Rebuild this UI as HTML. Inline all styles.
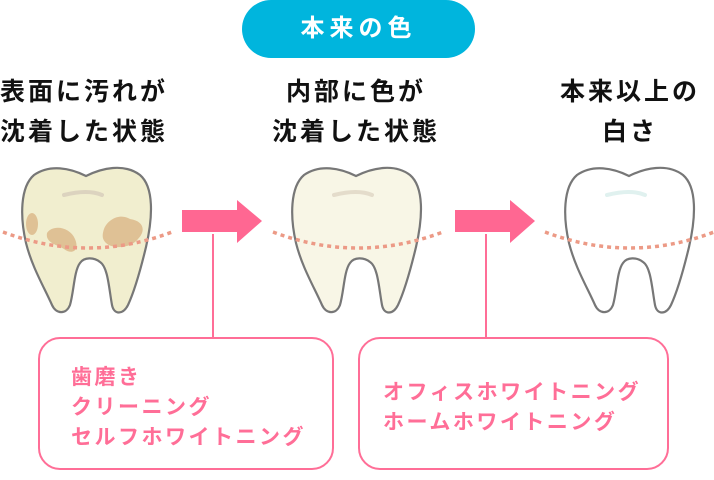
<!DOCTYPE html>
<html><head><meta charset="utf-8"><style>
html,body{margin:0;padding:0;background:#fff;}
body{width:714px;height:480px;position:relative;overflow:hidden;font-family:"Liberation Sans","Noto Sans CJK JP",sans-serif;}
.h{position:absolute;font-weight:bold;font-size:25px;line-height:40px;color:#111;text-align:center;letter-spacing:3px;}
.pill{position:absolute;left:242px;top:0;width:233px;height:58px;border-radius:29px;background:#00b5dd;color:#fff;font-weight:bold;font-size:24px;line-height:58px;text-align:center;letter-spacing:5px;}
.box{position:absolute;border:2px solid #ff6e97;border-radius:22px;box-sizing:border-box;color:#ff6e97;font-weight:bold;font-size:21px;line-height:30px;letter-spacing:2.5px;}
</style></head><body>
<div class="pill">本来の色</div>
<div class="h" style="left:-6px;top:72px;width:180px;">表面に汚れが<br>沈着した状態</div>
<div class="h" style="left:266px;top:72px;width:180px;">内部に色が<br>沈着した状態</div>
<div class="h" style="left:540px;top:72px;width:180px;">本来以上の<br>白さ</div>
<svg width="714" height="480" style="position:absolute;left:0;top:0">
<defs>
<path id="t" d="M66,9 C82,1 104,-4 120,8 C134,20 133,50 126,80 C120,105 114,125 108,138 C103,148 94,148 92,138 C89,122 88,100 80,95 C74,90 64,90 60,96 C54,104 54,124 50,138 C46,148 36,147 32,138 C24,120 12,100 6,76 C0,50 0,20 14,8 C30,-3 50,1 66,9 Z"/>
</defs>
<g transform="translate(20,167)">
<use href="#t" fill="#f1eecf" stroke="#777" stroke-width="2.2"/>
<path d="M44,28 Q68,22 82,28" stroke="#dcd3bf" stroke-width="4" fill="none" stroke-linecap="round"/>
<ellipse cx="12" cy="57" rx="6" ry="11" fill="#dfc195"/>
<path d="M27,66 C33,57 50,60 55,72 C60,84 52,88 44,82 C38,78 25,76 27,66Z" fill="#dfc195"/>
<path d="M84,62 C88,52 100,46 110,52 C124,54 126,64 118,72 C110,82 92,82 86,76 C82,72 82,68 84,62Z" fill="#dfc195"/>
</g>
<g transform="translate(290,167)">
<use href="#t" fill="#f8f6e6" stroke="#777" stroke-width="2.2"/>
<path d="M44,28 Q68,22 82,28" stroke="#e4dccb" stroke-width="4" fill="none" stroke-linecap="round"/>
</g>
<g transform="translate(563,167)">
<use href="#t" fill="#fff" stroke="#777" stroke-width="2.2"/>
<path d="M44,28 Q68,22 82,28" stroke="#e0f1ef" stroke-width="4" fill="none" stroke-linecap="round"/>
</g>
<g stroke="#ec9a86" stroke-width="3.5" stroke-dasharray="4,4" fill="none">
<path d="M3,232 Q88,264 172,232"/>
<path d="M273,232 Q358,264 443,232"/>
<path d="M545,232 Q630,264 714,232"/>
</g>
<g fill="#ff6792">
<polygon points="182,210 237,210 237,200 262,221 237,243 237,232 182,232"/>
<polygon points="455,210 510,210 510,200 535,221 510,243 510,232 455,232"/>
</g>
<g stroke="#ff6e97" stroke-width="2">
<line x1="213" y1="234" x2="213" y2="338"/>
<line x1="486" y1="234" x2="486" y2="338"/>
</g>
</svg>
<div class="box" style="left:38px;top:337px;width:296px;height:133px;padding:24px 0 0 31px;">歯磨き<br>クリーニング<br>セルフホワイトニング</div>
<div class="box" style="left:358px;top:337px;width:311px;height:133px;padding:39px 0 0 23px;">オフィスホワイトニング<br>ホームホワイトニング</div>
</body></html>
